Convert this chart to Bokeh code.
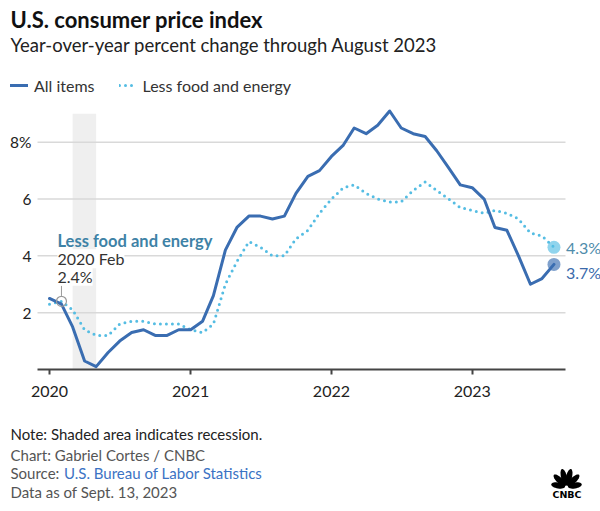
import numpy as np
import pandas as pd
from bokeh.plotting import figure
from bokeh.models import (BoxAnnotation, Label, Legend, LegendItem, FixedTicker,
                          DatetimeTickFormatter, PolyAnnotation, ColumnDataSource)
from bokeh.embed import file_html
from bokeh.resources import INLINE

# ---------------- data ----------------
months = pd.date_range("2020-01-01", "2023-08-01", freq="MS")
all_items = [2.5, 2.3, 1.5, 0.3, 0.1, 0.6, 1.0, 1.3, 1.4, 1.2, 1.2, 1.4,
             1.4, 1.7, 2.6, 4.2, 5.0, 5.4, 5.4, 5.3, 5.4, 6.2, 6.8, 7.0,
             7.5, 7.9, 8.5, 8.3, 8.6, 9.1, 8.5, 8.3, 8.2, 7.7, 7.1, 6.5,
             6.4, 6.0, 5.0, 4.9, 4.0, 3.0, 3.2, 3.7]
less_food_energy = [2.3, 2.4, 2.1, 1.4, 1.2, 1.2, 1.6, 1.7, 1.7, 1.6, 1.6, 1.6,
                    1.4, 1.3, 1.6, 3.0, 3.8, 4.5, 4.3, 4.0, 4.0, 4.6, 4.9, 5.5,
                    6.0, 6.4, 6.5, 6.2, 6.0, 5.9, 5.9, 6.3, 6.6, 6.3, 6.0, 5.7,
                    5.6, 5.5, 5.6, 5.5, 5.3, 4.8, 4.7, 4.3]
year_ticks = ["2020-01-01", "2021-01-01", "2022-01-01", "2023-01-01"]
y_ticks = [2, 4, 6, 8]
y_max = 9
recession = ["2020-03-01", "2020-05-01"]
annot_idx = 1  # 2020 Feb

FONT = "Lato"
BLUE = "#3a6db1"
LIGHT = "#55bde3"

# ---------------- layout (pixels; canvas sits at page 0,0) ----------------
W, H = 600, 511
X_ORIGIN_PX = 49           # x of 2020-01-01
PX_PER_DAY = 422.7 / 1096  # 2020-01-01 .. 2023-01-01
Y_ZERO_PX = 369            # y of value 0
PX_PER_UNIT = 28.41
PLOT_LEFT_PX, PLOT_RIGHT_PX = 37, 565

origin = pd.Timestamp("2020-01-01")


def date_at(px):
    return origin + pd.Timedelta(days=(px - X_ORIGIN_PX) / PX_PER_DAY)


def ms(s):
    return pd.Timestamp(s).value // 10**6


x_start = date_at(0)
x_end = date_at(W)
y_top = Y_ZERO_PX / PX_PER_UNIT
y_bot = -(H - Y_ZERO_PX) / PX_PER_UNIT
plot_l = date_at(PLOT_LEFT_PX)
plot_r = date_at(PLOT_RIGHT_PX)

p = figure(width=W, height=H, x_axis_type="datetime", output_backend="svg",
           toolbar_location=None, x_range=(x_start, x_end), y_range=(y_bot, y_top),
           min_border=0, min_border_left=0, min_border_right=0,
           min_border_top=0, min_border_bottom=0)
p.outline_line_color = None
p.background_fill_color = "white"
p.border_fill_color = "white"
p.xgrid.visible = False
p.ygrid.visible = False

# recession shading
p.add_layout(BoxAnnotation(left=ms(recession[0]), right=ms(recession[1]),
                           bottom=0, top=y_max,
                           fill_color="#efefef", fill_alpha=1, line_color=None,
                           level="image"))

# horizontal grid lines over the plot area only
p.segment(x0=[plot_l] * len(y_ticks), y0=y_ticks, x1=[plot_r] * len(y_ticks),
          y1=y_ticks, line_color="#d9d9d9", line_width=1.5)

src = ColumnDataSource(dict(date=months, all=all_items, core=less_food_energy))
r_core = p.line("date", "core", source=src, line_color=LIGHT, line_width=3,
                line_dash="0 6", line_cap="round")
r_all = p.line("date", "all", source=src, line_color=BLUE, line_width=3,
               line_join="round", line_cap="round")

# axes (fixed inside the frame)
xa = p.xaxis[0]
xa.fixed_location = 0
xa.bounds = (ms(plot_l), ms(plot_r))
xa.ticker = FixedTicker(ticks=[ms(t) for t in year_ticks])
xa.formatter = DatetimeTickFormatter(years="%Y", months="%Y", days="%Y",
                                     hours="%Y", minutes="%Y")
xa.axis_line_color = "#444444"
xa.axis_line_width = 2
xa.major_tick_line_color = "#444444"
xa.major_tick_line_width = 2
xa.major_tick_in = 0
xa.major_tick_out = 5
xa.minor_tick_line_color = None
xa.major_label_standoff = 11
xa.major_label_text_font = FONT
xa.major_label_text_font_size = "16px"
xa.major_label_text_color = "#222222"

ya = p.yaxis[0]
ya.fixed_location = ms(plot_l)
ya.ticker = FixedTicker(ticks=y_ticks)
ya.major_label_overrides = {8: "8%"}
ya.axis_line_color = None
ya.major_tick_line_color = None
ya.major_tick_out = 0
ya.major_tick_in = 0
ya.minor_tick_line_color = None
ya.minor_tick_out = 0
ya.major_label_standoff = 6
ya.major_label_text_font = FONT
ya.major_label_text_font_size = "15.5px"
ya.major_label_text_color = "#222222"


def sx(px):
    return px


def sy(py):
    return H - py


# legend
legend = Legend(items=[LegendItem(label="All items", renderers=[r_all]),
                       LegendItem(label="Less food and energy", renderers=[r_core])],
                orientation="horizontal", location=(sx(10), sy(95)),
                padding=0, margin=0, spacing=24, glyph_width=18, glyph_height=20,
                label_standoff=6, label_height=20,
                label_text_font=FONT, label_text_font_size="16px",
                label_text_color="#333333",
                border_line_color=None, background_fill_alpha=0)
p.add_layout(legend, "center")

# annotation at 2020 Feb
fx = months[annot_idx]
fy = less_food_energy[annot_idx]
p.segment(x0=[fx], y0=[fy + 0.19], x1=[fx], y1=[fy + 0.55],
          line_color="#9a9a9a", line_width=1)
p.scatter(x=[fx], y=[fy], size=10, fill_alpha=0, line_color="#9a9a9a",
          line_width=1.2)
p.add_layout(Label(x=fx, y=fy, x_offset=-4, y_offset=60,
                   text="Less food and energy", text_font=FONT,
                   text_font_style="bold", text_font_size="16.5px",
                   text_color="#3e82a6", text_baseline="middle"))
p.add_layout(Label(x=fx, y=fy, x_offset=-4, y_offset=42.5,
                   text=f"{fx.year} {fx.strftime('%b')}", text_font=FONT,
                   text_font_size="16px", text_color="#333333",
                   text_baseline="middle",
                   background_fill_color="white", background_fill_alpha=1))
p.add_layout(Label(x=fx, y=fy, x_offset=-4, y_offset=25,
                   text=f"{fy}%", text_font=FONT,
                   text_font_size="16px", text_color="#333333",
                   text_baseline="middle",
                   background_fill_color="white", background_fill_alpha=1))

# end points
lx = months[-1]
p.scatter(x=[lx], y=[less_food_energy[-1]], size=13, fill_color=LIGHT,
          fill_alpha=0.65, line_color=None)
p.scatter(x=[lx], y=[all_items[-1]], size=13, fill_color=BLUE,
          fill_alpha=0.65, line_color=None)
p.add_layout(Label(x=lx, y=less_food_energy[-1], x_offset=12, y_offset=0,
                   text=f"{less_food_energy[-1]}%", text_font=FONT,
                   text_font_size="16px", text_color="#4e8cab",
                   text_baseline="middle"))
p.add_layout(Label(x=lx, y=all_items[-1], x_offset=12, y_offset=-8,
                   text=f"{all_items[-1]}%", text_font=FONT,
                   text_font_size="16px", text_color="#3a6aab",
                   text_baseline="middle"))


def add_text(px, py, text, size, color, style="normal"):
    p.add_layout(Label(x=sx(px), y=sy(py), x_units="screen", y_units="screen",
                       text=text, text_font=FONT, text_font_size=size,
                       text_color=color, text_font_style=style,
                       text_baseline="middle"))


add_text(10, 18.5, "U.S. consumer price index", "22px", "#111111", "bold")
add_text(10, 44.5, "Year-over-year percent change through August 2023", "18.5px", "#222222")
add_text(10, 433, "Note: Shaded area indicates recession.", "15px", "#222222")
add_text(10, 454, "Chart: Gabriel Cortes / CNBC", "15px", "#555555")
add_text(10, 472.5, "Source:", "15px", "#555555")
add_text(63.5, 472.5, "U.S. Bureau of Labor Statistics", "15px", "#3b73c4")
add_text(10, 491, "Data as of Sept. 13, 2023", "15px", "#555555")

# CNBC peacock logo
ox, oy = sx(566), sy(486.5)
angles = [170, 136, 104, 76, 44, 10]
lengths = [14, 16, 17, 17, 16, 14]
t = np.linspace(0, 2 * np.pi, 32)
for a, L in zip(angles, lengths):
    th = np.radians(a)
    u = 1.5 + L / 2 + (L / 2) * np.cos(t)
    v = 3.0 * np.sin(t)
    xs = ox + u * np.cos(th) - v * np.sin(th)
    ys = oy + u * np.sin(th) + v * np.cos(th)
    p.add_layout(PolyAnnotation(xs=list(xs), ys=list(ys), xs_units="screen",
                                ys_units="screen", fill_color="black",
                                fill_alpha=1, line_color=None))
p.add_layout(Label(x=sx(566.5), y=sy(494), x_units="screen", y_units="screen",
                   text="CNBC", text_font="DejaVu Sans", text_font_style="bold",
                   text_font_size="9.5px", text_color="black",
                   text_align="center", text_baseline="middle"))

open("out.html", "w").write(file_html(p, INLINE))
